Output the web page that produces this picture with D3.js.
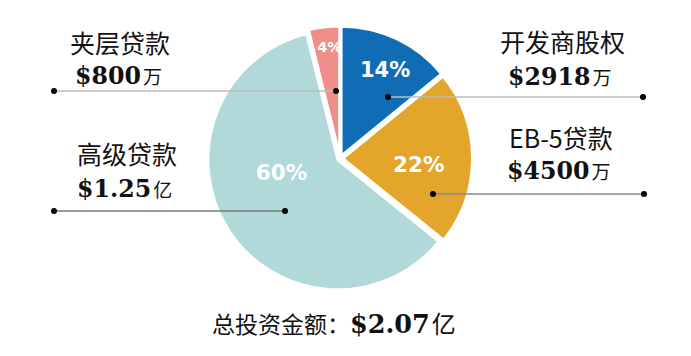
<!DOCTYPE html>
<html><head><meta charset="utf-8">
<script src="https://cdn.jsdelivr.net/npm/d3@7"></script>
<style>body{margin:0;background:#fff}svg{display:block}</style>
</head><body>
<svg id="c" width="691" height="356"></svg>
<script>
const categories = ["开发商股权", "EB-5贷款", "高级贷款", "夹层贷款"];
const values = [2918, 4500, 12500, 800]; // 万
const percentLabels = ["14%", "22%", "60%", "4%"];
const amountLabels = ["$2918", "$4500", "$1.25", "$800"];
const amountUnits = ["万", "万", "亿", "万"];
const colors = ["#106db5", "#e3a52a", "#b1d9d9", "#f08e8a"];
const totalTitle = "总投资金额：";
const totalAmount = "$2.07";
const totalUnit = "亿";

const svg = d3.select("#c");
const cx = 340, cy = 158.5, R = 130, explode = 2.5;

const pie = d3.pie().sort(null).value(d => d)(values);
const arc = d3.arc().innerRadius(0).outerRadius(R);

const g = svg.append("g").attr("transform", `translate(${cx},${cy})`);
g.selectAll("path").data(pie).join("path")
  .attr("d", arc)
  .attr("fill", (d, i) => colors[i])
  .attr("stroke", "#fff").attr("stroke-width", 3).attr("stroke-linejoin", "round")
  .attr("transform", d => {
    const a = (d.startAngle + d.endAngle) / 2;
    return `translate(${explode * Math.sin(a)},${-explode * Math.cos(a)})`;
  });

// percent labels (polar placement relative to pie centre)
const pctLayout = [
  {r: 100, a: 26.8, size: 21},
  {r: 79, a: 94, size: 21.5},
  {r: 60, a: 257, size: 21.5},
  {r: 112, a: 354.6, size: 14.5}
];
g.selectAll("text.pct").data(pie).join("text").attr("class", "pct")
  .attr("x", (d, i) => pctLayout[i].r * Math.sin(pctLayout[i].a * Math.PI / 180))
  .attr("y", (d, i) => -pctLayout[i].r * Math.cos(pctLayout[i].a * Math.PI / 180))
  .attr("dy", "0.36em")
  .attr("text-anchor", "middle")
  .attr("font-family", "DejaVu Sans")
  .attr("font-weight", "bold")
  .attr("font-size", (d, i) => pctLayout[i].size)
  .attr("fill", "#fff")
  .text((d, i) => percentLabels[i]);

// leader lines
const leaders = [
  {y: 97, x1: 388, x2: 643, color: "#bdbdbd"},
  {y: 194, x1: 433, x2: 644, color: "#8a8a8a"},
  {y: 211, x1: 285, x2: 54, color: "#7a7a7a"},
  {y: 91, x1: 336, x2: 54, color: "#bdbdbd"}
];
const lg = svg.append("g");
leaders.forEach(l => {
  lg.append("line").attr("x1", l.x1).attr("x2", l.x2).attr("y1", l.y).attr("y2", l.y)
    .attr("stroke", l.color).attr("stroke-width", 1.6);
  lg.append("circle").attr("cx", l.x1).attr("cy", l.y).attr("r", 3).attr("fill", "#000");
  lg.append("circle").attr("cx", l.x2).attr("cy", l.y).attr("r", 3).attr("fill", "#000");
});

// category labels
const labelLayout = [
  {nx: 500, ny: 52, ax: 508, ay: 85},
  {nx: 509, ny: 148, ax: 507, ay: 179},
  {nx: 77, ny: 164, ax: 77, ay: 196.5},
  {nx: 70, ny: 53, ax: 75, ay: 84}
];
const tg = svg.append("g");
categories.forEach((c, i) => {
  const L = labelLayout[i];
  tg.append("text").attr("x", L.nx).attr("y", L.ny)
    .attr("font-family", "Noto Sans CJK SC").attr("font-size", 25).attr("fill", "#111")
    .text(c);
  const t = tg.append("text").attr("x", L.ax).attr("y", L.ay).attr("fill", "#111");
  t.append("tspan").attr("font-family", "DejaVu Serif").attr("font-weight", "bold")
    .attr("font-size", 23.7).text(amountLabels[i]);
  t.append("tspan").attr("font-family", "Noto Sans CJK SC").attr("font-size", 19)
    .attr("dx", 2).text(amountUnits[i]);
});

// total
const tt = svg.append("text").attr("x", 212).attr("y", 333).attr("fill", "#111");
tt.append("tspan").attr("font-family", "Noto Sans CJK SC").attr("font-size", 23).text(totalTitle);
tt.append("tspan").attr("font-family", "DejaVu Serif").attr("font-weight", "bold")
  .attr("font-size", 25.5).text(totalAmount);
tt.append("tspan").attr("font-family", "Noto Sans CJK SC").attr("font-size", 24)
  .attr("dx", 2).text(totalUnit);
</script>
</body></html>
